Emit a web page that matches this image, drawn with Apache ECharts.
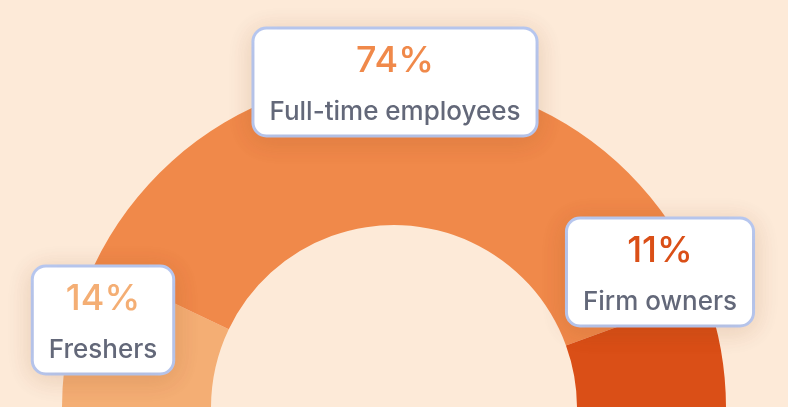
<!DOCTYPE html>
<html>
<head>
<meta charset="utf-8">
<script src="https://cdn.jsdelivr.net/npm/echarts@6/dist/echarts.min.js"></script>
<style>
  html, body { margin: 0; padding: 0; background: #fdead8; }
  #main { width: 788px; height: 407px; }
</style>
</head>
<body>
<div id="main"></div>
<script>
// slices, left to right across the half donut
var names = ['Freshers', 'Full-time employees', 'Firm owners'];
var values = [14, 74, 11];
var colors = ['#f4ae74', '#f0894a', '#da4f17'];

// where each label box sits (centre of box, px)
var labelX = [103, 395, 660];
var labelY = [320, 82, 272];

var chart = echarts.init(document.getElementById('main'));

var data = names.map(function (n, i) {
    return {
        name: n,
        value: values[i],
        itemStyle: { color: colors[i] },
        label: {
            rich: {
                p: {
                    fontFamily: 'Inter',
                    fontSize: 36,
                    fontWeight: 500,
                    lineHeight: 58,
                    color: colors[i],
                    align: 'center'
                },
                n: {
                    fontFamily: 'Inter',
                    fontSize: 26,
                    fontWeight: 500,
                    lineHeight: 44,
                    color: '#636879',
                    align: 'center'
                }
            }
        }
    };
});

chart.setOption({
    backgroundColor: '#fdead8',
    animation: false,
    series: [{
        type: 'pie',
        center: [394, 408],
        radius: [183, 332],
        startAngle: 180,
        endAngle: 360,
        silent: true,
        data: data,
        label: {
            show: true,
            position: 'inside',
            rotate: 0,
            overflow: 'none',
            formatter: '{p|{c}%}\n{n|{b}}',
            backgroundColor: '#ffffff',
            borderColor: '#b9ccf7',
            borderWidth: 3,
            borderRadius: 12,
            padding: [3, 15, 0, 15],
            shadowBlur: 26,
            shadowColor: 'rgba(120, 60, 20, 0.14)',
            shadowOffsetY: 4
        },
        labelLine: { show: false },
        labelLayout: function (params) {
            return {
                x: labelX[params.dataIndex],
                y: labelY[params.dataIndex],
                align: 'center',
                verticalAlign: 'middle',
                hideOverlap: false,
                moveOverlap: false
            };
        }
    }]
});
</script>
</body>
</html>
